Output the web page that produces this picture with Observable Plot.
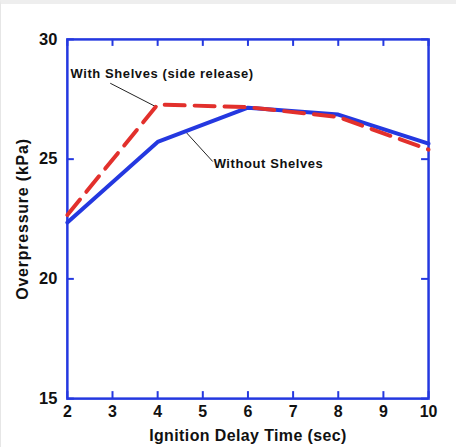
<!DOCTYPE html>
<html>
<head>
<meta charset="utf-8">
<script src="https://cdn.jsdelivr.net/npm/d3@7"></script>
<script src="https://cdn.jsdelivr.net/npm/@observablehq/plot@0.6"></script>
<style>
  html, body { margin: 0; padding: 0; background: #fff; }
  body { width: 456px; height: 447px; overflow: hidden; }
  #chart { border-top: 4px solid #eeeeee; border-left: 1px solid #e6e6e6; box-sizing: border-box; width: 456px; height: 447px; overflow: hidden; }
  #chart svg { display: block; margin-top: -4px; margin-left: -1px; }
</style>
</head>
<body>
<div id="chart"></div>
<script>
// Data
const delays = [2, 4, 6, 8, 10];
const withoutShelves = [22.35, 25.72, 27.15, 26.86, 25.65];
const withShelves = [22.67, 27.28, 27.17, 26.76, 25.4];
const xTicks = [2, 3, 4, 5, 6, 7, 8, 9, 10];
const yTicks = [15, 20, 25, 30];
const labelTexts = ["With Shelves (side release)", "Without Shelves"];
const labelX = [2.07, 5.24];
const labelY = [28.58, 24.8];
const leaderFromX = [2.95, 4.64];
const leaderFromY = [28.17, 26.1];
const leaderToX = [3.95, 5.22];
const leaderToY = [27.2, 24.9];

const blue = "#2438e0";
const red = "#e2302c";
const font = "'Liberation Sans', Arial, Helvetica, sans-serif";

const blueData = delays.map((x, i) => ({x, y: withoutShelves[i]}));
const redData = delays.map((x, i) => ({x, y: withShelves[i]}));
const labels = labelTexts.map((t, i) => ({t, x: labelX[i], y: labelY[i]}));
const leaders = labelTexts.map((t, i) => ({x1: leaderFromX[i], y1: leaderFromY[i], x2: leaderToX[i], y2: leaderToY[i]}));

const chart = Plot.plot({
  width: 456,
  height: 447,
  marginLeft: 67,
  marginRight: 27,
  marginTop: 39,
  marginBottom: 48,
  style: {fontFamily: font, background: "transparent", overflow: "visible"},
  x: {domain: [2, 10]},
  y: {domain: [15, 30]},
  marks: [
    // ticks (inside)
    Plot.tickX(xTicks, {x: d => d, stroke: blue, strokeWidth: 2, insetTop: 353}),
    Plot.tickX(xTicks, {x: d => d, stroke: blue, strokeWidth: 2, insetBottom: 353}),
    Plot.tickY(yTicks, {y: d => d, stroke: blue, strokeWidth: 2, insetRight: 355}),
    Plot.tickY(yTicks, {y: d => d, stroke: blue, strokeWidth: 2, insetLeft: 355}),
    Plot.frame({stroke: blue, strokeWidth: 2.5}),
    Plot.axisX({ticks: xTicks, tickSize: 0, tickPadding: 7, tickFormat: d => String(d), fontSize: 16, fontWeight: "bold", fill: "#111",
      label: "Ignition Delay Time (sec)", labelAnchor: "center", labelArrow: "none", labelOffset: 42}),
    Plot.axisY({ticks: yTicks, tickSize: 0, tickPadding: 10, fontSize: 16.5, fontWeight: "bold", fill: "#111",
      label: "Overpressure (kPa)", labelAnchor: "center", labelArrow: "none", labelOffset: 51}),
    Plot.link(leaders, {x1: "x1", y1: "y1", x2: "x2", y2: "y2", stroke: "#222", strokeWidth: 1}),
    Plot.line(blueData, {x: "x", y: "y", stroke: blue, strokeWidth: 4}),
    Plot.line(redData, {x: "x", y: "y", stroke: red, strokeWidth: 4, strokeDasharray: "20,10"}),
    Plot.text(labels, {x: "x", y: "y", text: "t", textAnchor: "start", fontSize: 13, fontWeight: "bold", fill: "#111"})
  ]
});
chart.querySelectorAll("[aria-label='x-axis label'] text").forEach(t => {
  t.style.fontSize = "16px"; t.style.fontWeight = "bold"; t.style.letterSpacing = "0.4px"; t.setAttribute("fill", "#111");
});
chart.querySelectorAll("[aria-label='y-axis label'] text").forEach(t => {
  t.style.fontSize = "16px"; t.style.fontWeight = "bold"; t.style.letterSpacing = "0.8px"; t.setAttribute("fill", "#111");
});
chart.querySelectorAll("[aria-label='text'] text").forEach(t => {
  t.style.letterSpacing = "0.6px";
});
document.getElementById("chart").appendChild(chart);
</script>
</body>
</html>
